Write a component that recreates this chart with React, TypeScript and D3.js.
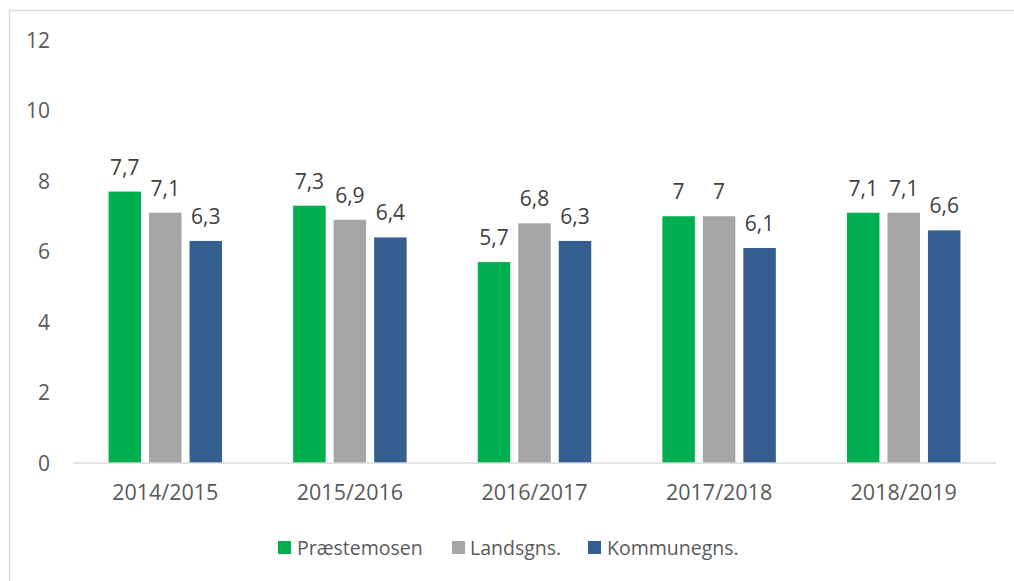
import React from "react";
import * as d3 from "d3";

const categories = ["2014/2015", "2015/2016", "2016/2017", "2017/2018", "2018/2019"];
const seriesNames = ["Præstemosen", "Landsgns.", "Kommunegns."];
const seriesColors = ["#00B050", "#A5A5A5", "#365F91"];
const praestemosen = [7.7, 7.3, 5.7, 7, 7.1];
const landsgns = [7.1, 6.9, 6.8, 7, 7.1];
const kommunegns = [6.3, 6.4, 6.3, 6.1, 6.6];
const yTicks = [0, 2, 4, 6, 8, 10, 12];

const seriesValues = [praestemosen, landsgns, kommunegns];

export default function App() {
  const W = 1014, H = 581;
  const left = 73, right = 996, top = 40, bottom = 463;
  const font = "'Open Sans', sans-serif";

  const x = d3.scaleBand<string>().domain(categories).range([left, right]).paddingInner(0).paddingOuter(0);
  const xs = d3.scaleBand<string>().domain(seriesNames).range([0, x.bandwidth()]).paddingInner(0.1975).paddingOuter(0.878);
  const y = d3.scaleLinear().domain([0, 12]).range([bottom, top]);
  const fmt = (v: number) => String(v).replace(".", ",");

  const legendItems = [
    { name: seriesNames[0], sx: 278, tx: 297 },
    { name: seriesNames[1], sx: 452, tx: 470 },
    { name: seriesNames[2], sx: 588, tx: 607 },
  ];

  return (
    <svg width={W} height={H} style={{ position: "fixed", left: 0, top: 0, background: "#fff" }} fontFamily={font}>
      <rect x={9.5} y={10.5} width={1020} height={600} fill="#fff" stroke="#D9D9D9" strokeWidth={1.5} />
      {yTicks.map((t) => (
        <text key={t} x={50} y={y(t)} dy="0.36em" textAnchor="end" fontSize={21} fill="#595959">
          {t}
        </text>
      ))}
      {categories.map((c, i) => (
        <g key={c}>
          {seriesNames.map((s, j) => {
            const v = seriesValues[j][i];
            const bx = (x(c) as number) + (xs(s) as number);
            return (
              <g key={s}>
                <rect x={bx} y={y(v)} width={xs.bandwidth()} height={bottom - y(v)} fill={seriesColors[j]} />
                <text x={bx + xs.bandwidth() / 2} y={y(v) - 17} textAnchor="middle" fontSize={21} fill="#404040">
                  {fmt(v)}
                </text>
              </g>
            );
          })}
          <text x={(x(c) as number) + x.bandwidth() / 2} y={bottom + 37} textAnchor="middle" fontSize={21.5} fill="#595959">
            {c}
          </text>
        </g>
      ))}
      <line x1={left} x2={right} y1={bottom} y2={bottom} stroke="#D9D9D9" strokeWidth={1.5} />
      {legendItems.map((l, j) => (
        <g key={l.name}>
          <rect x={l.sx} y={541} width={13} height={13} fill={seriesColors[j]} />
          <text x={l.tx} y={554.5} fontSize={19.5} fill="#595959">
            {l.name}
          </text>
        </g>
      ))}
    </svg>
  );
}
